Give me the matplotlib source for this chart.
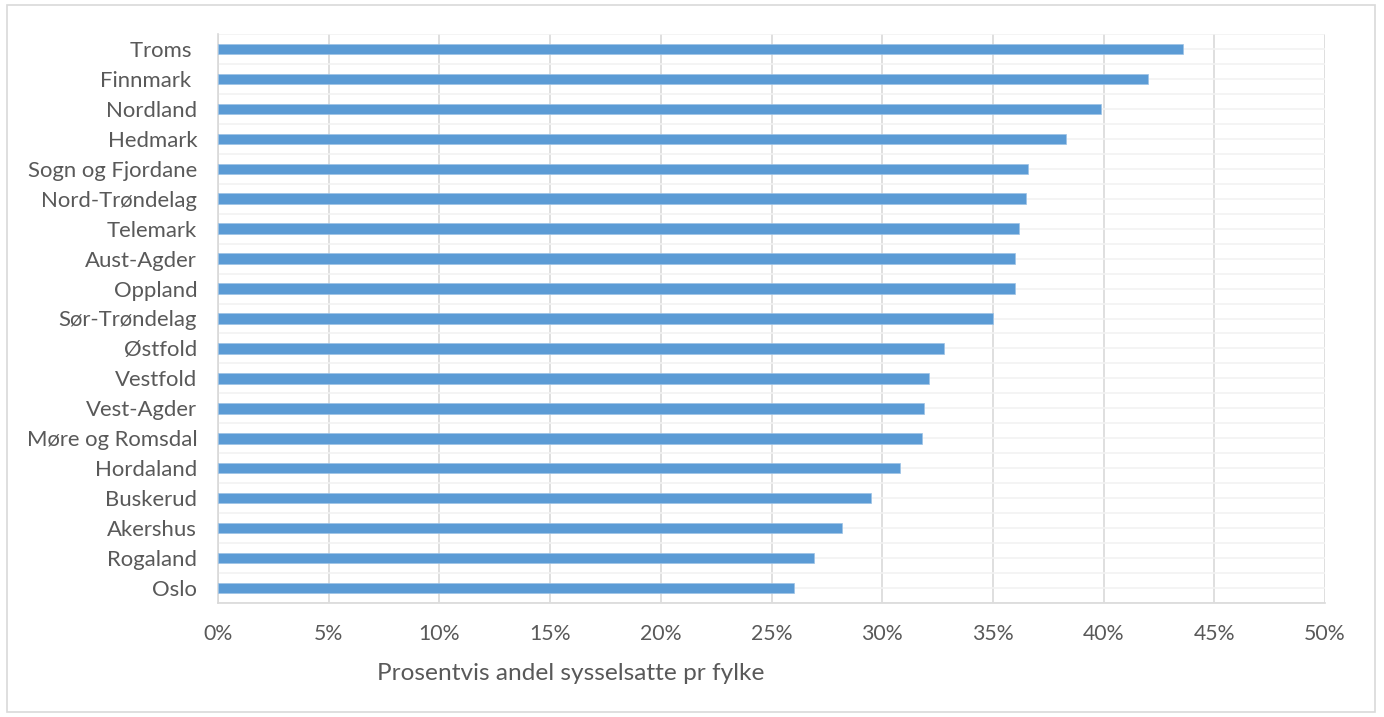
import matplotlib
matplotlib.use("Agg")
import matplotlib.pyplot as plt
from matplotlib.patches import Rectangle
from matplotlib.ticker import FuncFormatter, MultipleLocator
import numpy as np

categories = ["Troms ", "Finnmark ", "Nordland", "Hedmark", "Sogn og Fjordane",
              "Nord-Trøndelag", "Telemark", "Aust-Agder", "Oppland", "Sør-Trøndelag",
              "Østfold", "Vestfold", "Vest-Agder", "Møre og Romsdal", "Hordaland",
              "Buskerud", "Akershus", "Rogaland", "Oslo"]
values = [0.436, 0.420, 0.399, 0.383, 0.366, 0.365, 0.362, 0.360, 0.360, 0.350,
          0.328, 0.321, 0.319, 0.318, 0.308, 0.295, 0.282, 0.269, 0.260]
xlabel = "Prosentvis andel sysselsatte pr fylke"

plt.rcParams['font.family'] = ['Lato', 'DejaVu Sans']

fig = plt.figure(figsize=(13.84, 7.17), dpi=100)
ax = fig.add_axes([218/1384, 1-603/717, (1325-218)/1384, (603-34)/717])

n = len(categories)
y = np.arange(n)
ax.barh(y, values, height=0.35, color='#5b9bd5', edgecolor='#9dc3e6', linewidth=0.5, zorder=3)
ax.set_ylim(n - 0.5, -0.5)
ax.set_xlim(0, 0.5)
ax.set_yticks(y)
ax.set_yticklabels(categories)
ax.yaxis.set_minor_locator(MultipleLocator(1, offset=0.5))
ax.xaxis.set_major_locator(MultipleLocator(0.05))
ax.xaxis.set_major_formatter(FuncFormatter(lambda v, p: f"{round(v*100)}%"))

ax.grid(axis='y', which='both', color='#f2f2f2', linewidth=1.2, zorder=0)
ax.grid(axis='x', which='major', color='#d9d9d9', linewidth=1.2, zorder=1)
ax.tick_params(axis='both', which='both', length=0, labelcolor='#595959')
ax.tick_params(axis='y', pad=15, labelsize=15.9)
ax.tick_params(axis='x', pad=15, labelsize=15.3)

for s in ['top', 'right']:
    ax.spines[s].set_visible(False)
ax.spines['left'].set_color('#d9d9d9')
ax.spines['bottom'].set_color('#d9d9d9')
ax.spines['left'].set_linewidth(1.2)
ax.spines['bottom'].set_linewidth(1.2)

ax.set_xlabel(xlabel, fontsize=17.6, color='#595959')
ax.xaxis.set_label_coords((571-218)/1107, (603-673)/569)
ax.xaxis.label.set_va('center')

fig.patches.append(Rectangle((7/1384, 1-712/717), (1375-7)/1384, (712-5)/717,
                             transform=fig.transFigure, fill=False,
                             edgecolor='#d9d9d9', linewidth=1.2))

fig.savefig("out.png", dpi=100, facecolor='white')
